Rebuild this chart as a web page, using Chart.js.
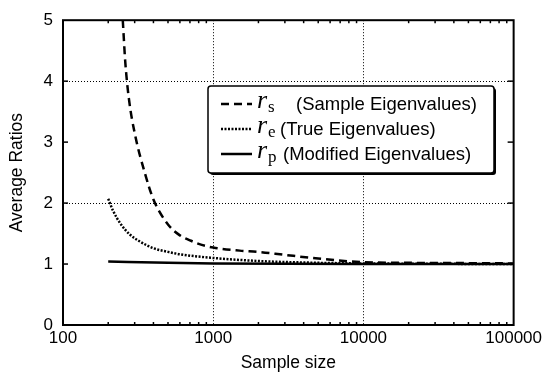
<!DOCTYPE html>
<html>
<head>
<meta charset="utf-8">
<script src="https://cdn.jsdelivr.net/npm/chart.js@4.4.0/dist/chart.umd.min.js"></script>
<style>
  html, body { margin: 0; padding: 0; background: #fff; }
</style>
</head>
<body>
<canvas id="ratioChart" width="545" height="374"></canvas>
<script>
// values (average ratio vs sample size)
const sizesS = [250, 260, 275, 300, 350, 400, 500, 600, 700, 800, 1000, 1500, 2000, 3000, 5000, 10000, 20000, 50000, 100000];
const ratiosS = [5.0, 4.3, 3.7, 3.15, 2.5, 2.06, 1.65, 1.47, 1.39, 1.33, 1.27, 1.22, 1.2, 1.15, 1.09, 1.03, 1.02, 1.015, 1.01];
const sizesE = [200, 215, 240, 280, 325, 400, 500, 600, 1000, 2000, 5000, 10000, 100000];
const ratiosE = [2.07, 1.88, 1.67, 1.48, 1.37, 1.26, 1.2, 1.16, 1.1, 1.05, 1.02, 1.01, 1.0];
const sizesP = [200, 500, 1000, 10000, 100000];
const ratiosP = [1.04, 1.02, 1.01, 1.0, 1.0];

const xTickValues = [100, 1000, 10000, 100000];
const yTickValues = [0, 1, 2, 3, 4, 5];
const xGridValues = [1000, 10000];
const yGridValues = [2, 4];
const xMinorSteps = [2, 3, 4, 5, 6, 7, 8, 9];

const legendSubs = ['s', 'e', 'p'];
const legendTexts = ['(Sample Eigenvalues)', '(True Eigenvalues)', '(Modified Eigenvalues)'];

const toPoints = (xs, ys) => xs.map((x, i) => ({ x: x, y: ys[i] }));
const sans = '"Liberation Sans", Arial, sans-serif';

// dotted grid, frame, inward ticks
const framePlugin = {
    id: 'frame',
    beforeDatasetsDraw(chart) {
        const { ctx, chartArea: a, scales: { x, y } } = chart;
        ctx.save();
        ctx.strokeStyle = '#000';
        ctx.lineWidth = 1;
        ctx.setLineDash([1, 2]);
        xGridValues.forEach(v => {
            const px = Math.round(x.getPixelForValue(v)) + 0.5;
            ctx.beginPath(); ctx.moveTo(px, a.top); ctx.lineTo(px, a.bottom); ctx.stroke();
        });
        yGridValues.forEach(v => {
            const py = Math.round(y.getPixelForValue(v)) + 0.5;
            ctx.beginPath(); ctx.moveTo(a.left, py); ctx.lineTo(a.right, py); ctx.stroke();
        });
        ctx.restore();
    },
    afterDatasetsDraw(chart) {
        const { ctx, chartArea: a, scales: { x, y } } = chart;
        ctx.save();
        ctx.strokeStyle = '#000';
        ctx.setLineDash([]);
        ctx.lineWidth = 1.5;
        // minor x ticks, bottom and top
        xTickValues.slice(0, -1).forEach(d => {
            xMinorSteps.forEach(k => {
                const px = x.getPixelForValue(d * k);
                ctx.beginPath(); ctx.moveTo(px, a.bottom); ctx.lineTo(px, a.bottom - 3); ctx.stroke();
                ctx.beginPath(); ctx.moveTo(px, a.top); ctx.lineTo(px, a.top + 3); ctx.stroke();
            });
        });
        // y ticks, left and right
        yTickValues.slice(1, -1).forEach(v => {
            const py = y.getPixelForValue(v);
            ctx.beginPath(); ctx.moveTo(a.left, py); ctx.lineTo(a.left + 5, py); ctx.stroke();
            ctx.beginPath(); ctx.moveTo(a.right, py); ctx.lineTo(a.right - 6, py); ctx.stroke();
        });
        ctx.lineWidth = 2;
        ctx.strokeRect(a.left, a.top, a.right - a.left, a.bottom - a.top);
        ctx.restore();
    }
};

// boxed legend with subscripted symbols
const legendPlugin = {
    id: 'legendBox',
    afterDraw(chart) {
        const ctx = chart.ctx;
        const bx = 208, by = 86, bw = 286, bh = 87;
        ctx.save();
        ctx.fillStyle = '#000';
        ctx.beginPath(); ctx.roundRect(bx + 2, by + 2, bw, bh, 3); ctx.fill();
        ctx.fillStyle = '#fff';
        ctx.beginPath(); ctx.roundRect(bx, by, bw, bh, 3); ctx.fill();
        ctx.lineWidth = 1.5;
        ctx.strokeStyle = '#000';
        ctx.stroke();

        const textX = [296, 280, 283];
        chart.data.datasets.forEach((ds, i) => {
            const ry = 104 + i * 25;
            ctx.strokeStyle = '#000';
            ctx.lineWidth = ds.borderWidth;
            ctx.setLineDash(ds.borderDash || []);
            ctx.beginPath(); ctx.moveTo(221, ry); ctx.lineTo(252, ry); ctx.stroke();
            ctx.setLineDash([]);

            ctx.fillStyle = '#000';
            ctx.textBaseline = 'alphabetic';
            ctx.textAlign = 'left';
            ctx.font = 'italic 26px "Liberation Serif", serif';
            ctx.fillText('r', 257, ry + 4);
            const rw = ctx.measureText('r').width;
            ctx.font = '17px "Liberation Serif", serif';
            ctx.fillText(legendSubs[i], 257 + rw + 1, ry + 8);
            ctx.font = '18.5px ' + sans;
            ctx.fillText(legendTexts[i], textX[i], ry + 6);
        });
        ctx.restore();
    }
};

const lineStyle = { borderColor: '#000', borderWidth: 2.5, pointRadius: 0, fill: false, cubicInterpolationMode: 'monotone' };

new Chart(document.getElementById('ratioChart').getContext('2d'), {
    type: 'line',
    data: {
        datasets: [
            Object.assign({ label: 'rs', data: toPoints(sizesS, ratiosS), borderDash: [8, 5] }, lineStyle),
            Object.assign({ label: 're', data: toPoints(sizesE, ratiosE), borderDash: [2, 1.5] }, lineStyle),
            Object.assign({ label: 'rp', data: toPoints(sizesP, ratiosP), borderDash: [] }, lineStyle)
        ]
    },
    options: {
        responsive: false,
        animation: false,
        layout: { padding: { top: 15, right: 30, bottom: 0, left: 0 } },
        plugins: { legend: { display: false }, tooltip: { enabled: false } },
        scales: {
            x: {
                type: 'logarithmic',
                min: 100,
                max: 100000,
                afterBuildTicks: s => { s.ticks = xTickValues.map(v => ({ value: v })); },
                afterFit: s => { s.height = 49; },
                ticks: { callback: v => String(v), color: '#000', font: { family: sans, size: 17 }, padding: 3, maxRotation: 0, autoSkip: false },
                grid: { display: false, drawTicks: false },
                border: { display: false },
                title: { display: true, text: 'Sample size', color: '#000', font: { family: sans, size: 17.5 }, padding: { top: 0, bottom: 0 } }
            },
            y: {
                min: 0,
                max: 5,
                afterBuildTicks: s => { s.ticks = yTickValues.map(v => ({ value: v })); },
                afterFit: s => { s.width = 63; },
                ticks: { color: '#000', font: { family: sans, size: 17 }, padding: 10 },
                grid: { display: false, drawTicks: false },
                border: { display: false },
                title: { display: true, text: 'Average Ratios', color: '#000', font: { family: sans, size: 17.5 }, padding: { top: 7, bottom: 0 } }
            }
        }
    },
    plugins: [framePlugin, legendPlugin]
});
</script>
</body>
</html>
